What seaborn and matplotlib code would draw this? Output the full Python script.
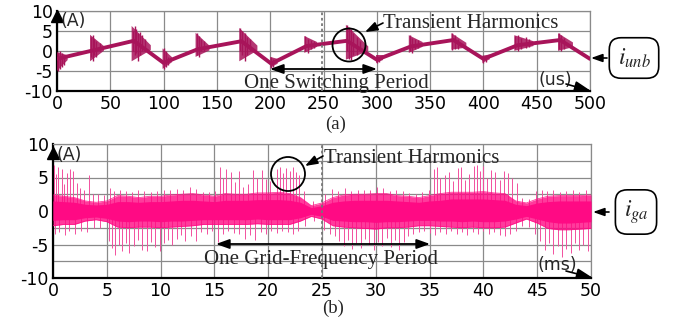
import numpy as np
import pandas as pd
import matplotlib
matplotlib.use("Agg")
import matplotlib.pyplot as plt
import seaborn as sns
from matplotlib.patches import Ellipse, FancyArrowPatch, ArrowStyle

# ---------------- data: panel (a) i_unb (us, A) ----------------
a_t = [0, 32, 72, 100, 132, 173, 201, 234, 272, 300, 332, 372, 400, 432, 472, 500]
a_i = [-2.0, 0.0, 2.5, -3.0, 0.4, 2.4, -3.2, 1.2, 2.5, -2.2, 1.1, 2.7, -2.0, 1.4, 2.7, -2.0]

# transient bursts (start, end, peak top, peak bottom, value at end)
b_t0 = [0, 31, 70, 99, 130, 171, 200, 232, 271, 299, 330, 370, 399, 429, 470]
b_t1 = [10, 44, 88, 108, 143, 188, 207, 244, 292, 306, 343, 384, 406, 447, 484]
b_top = [-0.3, 4.0, 6.2, 0.6, 4.5, 5.7, -1.5, 3.7, 6.5, -1.0, 3.9, 4.4, -1.2, 3.9, 4.4]
b_bot = [-5.0, -2.6, -2.6, -4.5, -1.5, -2.6, -4.2, -0.5, -2.2, -3.0, -0.5, 0.3, -3.0, 0.0, 0.0]
b_end = [-1.7, 0.6, 0.8, -2.2, 0.7, 0.7, -2.6, 1.6, 0.5, -1.6, 1.6, 1.4, -1.5, 1.8, 1.5]

# individual spikes inside bursts (time, low, high)
sa_t = [1, 3, 5, 7, 32, 33.5, 35, 37, 40, 71, 73, 74.5, 76, 78, 80, 83, 100, 102, 104,
        131, 133, 135, 138, 172, 174, 176, 178, 181, 201, 203, 233, 235, 238, 241,
        272, 274, 276, 278, 281, 284, 300, 302, 331, 333, 336, 339, 371, 373, 376,
        400, 402, 430, 432, 435, 440, 443, 471, 473, 476]
sa_lo = [-5, -4.5, -4, -3.5, -1.5, -2.6, -1, -1.5, 0, 0, -1, -0.5, -2.6, -1, 0, 0, -4.5, -4, -3.5,
         -1, -1.5, 0, 0, 0, -1, -2.6, -1, 0, -4.2, -4, 0, -0.5, 0.5, 0.8,
         0, -2, -2.2, -1, -1, 0, -3, -2.8, 0, -0.5, 0.5, 0.8, 0.3, 0.5, 0.5,
         -3, -2.8, 0.5, 0, 0.5, 0.8, 1, 0.5, 0, 0.5]
sa_hi = [-0.5, 0, -0.5, -1, 3.5, 4.0, 3, 2.5, 2, 5.0, 6.2, 5.5, 4.5, 4.8, 4, 3, 0.6, 0, -1.5,
         4.5, 3.8, 3, 2.5, 5.7, 5.0, 4.5, 3.5, 3, -1.5, -2, 3.7, 3.0, 2.8, 2.5,
         6.5, 6.0, 5.5, 4.5, 3.5, 2.5, -1, -1.5, 3.9, 3.2, 3.0, 2.8, 4.4, 4.0, 3.0,
         -1.2, -1.3, 3.6, 3.9, 3.3, 3.5, 3.0, 4.4, 4.0, 3.2]

# ---------------- data: panel (b) i_ga (ms, A) ----------------
b_tt = list(range(0, 51))
# outer (ragged) envelope of the dense band
core_hi = [2.4, 2.2, 2.0, 1.5, 1.3, 1.5, 2.3, 2.2, 2.0, 2.2, 2.2, 2.4, 2.5, 2.6, 2.4, 2.2, 2.6,
           2.5, 2.5, 2.7, 2.7, 2.8, 2.6, 2.0, 0.8, 1.2, 2.0, 2.4, 2.5, 2.5, 2.6, 2.6, 2.3, 2.2,
           2.0, 2.3, 2.6, 2.8, 2.8, 2.8, 2.9, 2.7, 2.6, 1.5, 1.2, 1.8, 2.2, 2.3, 2.3, 2.3, 2.4]
core_lo = [-2.2, -2.0, -2.0, -1.5, -1.3, -1.6, -2.4, -2.5, -2.4, -2.4, -2.5, -2.4, -2.3, -2.2,
           -2.0, -2.0, -2.0, -2.0, -2.0, -1.9, -2.0, -2.0, -2.0, -1.5, -0.8, -1.2, -2.2, -2.4,
           -2.5, -2.6, -2.7, -2.5, -2.5, -2.4, -2.2, -2.2, -2.3, -2.4, -2.5, -2.4, -2.5, -2.5,
           -2.4, -1.8, -1.2, -1.8, -2.6, -2.8, -2.8, -2.7, -2.6]
# solid inner part of the band
inner_hi = [1.5, 1.4, 1.3, 1.0, 0.9, 1.0, 1.4, 1.4, 1.3, 1.4, 1.4, 1.5, 1.6, 1.6, 1.5, 1.4, 1.6,
            1.6, 1.6, 1.7, 1.7, 1.7, 1.6, 1.3, 0.5, 0.8, 1.3, 1.5, 1.6, 1.6, 1.6, 1.6, 1.5, 1.4,
            1.3, 1.5, 1.6, 1.8, 1.8, 1.8, 1.8, 1.7, 1.6, 1.0, 0.8, 1.2, 1.4, 1.5, 1.5, 1.5, 1.5]
inner_lo = [-1.4, -1.3, -1.3, -1.0, -0.9, -1.1, -1.5, -1.6, -1.5, -1.5, -1.6, -1.5, -1.5, -1.4,
            -1.3, -1.3, -1.3, -1.3, -1.3, -1.2, -1.3, -1.3, -1.3, -1.0, -0.5, -0.8, -1.4, -1.5,
            -1.6, -1.6, -1.7, -1.6, -1.6, -1.5, -1.4, -1.4, -1.5, -1.5, -1.6, -1.5, -1.6, -1.6,
            -1.5, -1.2, -0.8, -1.2, -1.6, -1.8, -1.8, -1.7, -1.6]

up_t = [0.1, 0.3, 0.5, 0.8, 1.0, 1.3, 1.6, 1.9, 2.2, 2.5, 2.9, 3.3, 3.7, 4.2, 4.7, 5.3, 5.7, 6.2,
        6.8, 7.3, 7.9, 8.5, 9.1, 9.7, 10.3, 10.9, 11.5, 12.1, 12.7, 13.3, 13.9, 14.5, 15.1, 15.5,
        15.8, 16.1, 16.5, 16.9, 17.3, 17.7, 18.1, 18.6, 19.0, 19.4, 19.8, 20.2, 20.8, 21.1, 21.4,
        21.7, 22.0, 22.3, 22.6, 22.9, 23.3, 24.2, 25.3, 25.9, 26.5, 27.1, 27.7, 28.3, 28.9, 29.5,
        30.1, 30.7, 31.3, 31.9, 32.5, 33.1, 33.7, 34.3, 34.9, 35.4, 35.7, 36.0, 36.4, 36.8, 37.2,
        37.6, 37.9, 38.3, 38.7, 39.1, 39.4, 39.7, 40.0, 40.3, 40.7, 41.1, 41.5, 41.9, 42.3, 42.7,
        43.1, 43.6, 44.2, 44.9, 45.4, 45.9, 46.5, 47.1, 47.7, 48.3, 48.9, 49.5]
up_v = [6.8, 5.5, 6.6, 6.3, 4.0, 5.6, 6.2, 5.9, 4.2, 3.5, 3.2, 5.4, 2.5, 2.6, 2.4, 3.4, 3.0, 3.2,
        3.0, 2.9, 3.1, 3.0, 2.8, 3.0, 3.2, 3.1, 3.3, 3.2, 3.6, 3.3, 2.8, 2.8, 3.0, 6.6,
        5.0, 6.2, 5.8, 4.4, 6.0, 3.6, 4.0, 6.1, 5.0, 6.1, 4.8, 4.5, 6.2, 6.5, 5.6,
        6.4, 6.0, 6.5, 5.8, 5.3, 3.0, 1.5, 2.6, 3.3, 3.0, 3.4, 3.0, 3.2, 3.1, 3.2,
        3.6, 3.4, 3.0, 3.2, 3.0, 2.7, 2.6, 2.8, 3.2, 6.2, 6.6, 4.9, 5.3, 5.8, 4.5,
        6.4, 6.6, 4.7, 5.5, 6.7, 6.8, 6.0, 6.7, 5.0, 6.1, 5.8, 4.6, 5.9, 5.6, 5.0,
        4.2, 2.0, 1.8, 3.0, 3.2, 3.0, 3.1, 2.9, 3.0, 3.2, 2.9, 3.1]
lo_t = [0.2, 0.6, 1.1, 1.5, 2.0, 2.6, 3.2, 3.8, 4.4, 5.2, 5.5, 5.8, 6.1, 6.4, 6.8, 7.1, 7.5, 7.9,
        8.3, 8.7, 9.1, 9.5, 9.9, 10.3, 10.7, 11.1, 11.5, 11.9, 12.3, 12.8, 13.3, 13.8, 14.3, 14.8,
        15.3, 15.8, 16.3, 16.8, 17.3, 17.8, 18.3, 18.8, 19.3, 19.8, 20.3, 20.8, 21.3, 21.8, 22.3,
        22.8, 23.4, 24.3, 25.2, 25.7, 26.2, 26.6, 27.0, 27.4, 27.8, 28.2, 28.6, 29.0, 29.4, 29.8,
        30.2, 30.6, 31.0, 31.4, 31.8, 32.2, 32.6, 33.0, 33.5, 34.0, 34.5, 35.0, 35.5, 36.0, 36.5,
        37.0, 37.5, 38.0, 38.5, 39.0, 39.5, 40.0, 40.5, 41.0, 41.5, 42.0, 42.5, 43.0, 43.6, 44.2,
        44.8, 45.3, 45.7, 46.1, 46.5, 46.9, 47.3, 47.7, 48.1, 48.5, 48.9, 49.3, 49.7]
lo_v = [-3.5, -3.2, -3.6, -3.0, -3.4, -3.0, -3.2, -2.5, -2.6, -4.5, -5.5, -6.5, -5.0, -6.0, -4.8,
        -6.3, -5.2, -4.4, -5.8, -6.0, -4.6, -5.3, -5.9, -4.8, -4.4, -5.0, -4.2, -3.6, -4.5, -3.8,
        -4.5, -3.2, -3.4, -3.0, -4.6, -3.4, -3.0, -3.3, -3.5, -4.2, -3.6, -4.4, -3.2, -3.4, -3.0,
        -3.3, -3.0, -3.2, -3.4, -3.0, -2.2, -1.5, -2.8, -3.4, -3.8, -4.5, -5.2, -4.4, -5.6, -4.8,
        -5.5, -4.2, -5.0, -5.8, -4.6, -5.2, -4.0, -5.3, -4.4, -5.8, -4.6, -3.8, -3.4, -3.2, -3.0,
        -3.3, -3.6, -3.2, -3.5, -3.0, -3.4, -3.2, -3.6, -3.1, -3.4, -3.0, -3.5, -3.2, -3.6, -3.8,
        -3.4, -3.0, -2.2, -2.4, -3.5, -4.5, -5.8, -4.8, -6.4, -5.2, -6.8, -5.6, -6.2, -4.8, -5.8,
        -5.0, -6.0]

xt_a = [0, 50, 100, 150, 200, 250, 300, 350, 400, 450, 500]
xt_b = [0, 5, 10, 15, 20, 25, 30, 35, 40, 45, 50]
yt = [-10, -5, 0, 5, 10]

# ---------------- style ----------------
sns.set_theme(style="whitegrid")
plt.rcParams["font.family"] = ["DejaVu Sans"]
plt.rcParams["mathtext.fontset"] = "stix"
SERIF = ["Liberation Serif", "DejaVu Serif"]

W, H = 688, 322
fig = plt.figure(figsize=(W / 100, H / 100), dpi=100)
fig.patch.set_facecolor("white")


def fx(px):
    return px / W


def fy(py):
    return 1 - py / H


col_a = "#A8145A"
col_b = "#FF0A84"
col_b_sp = "#F2509F"
grid_c = "#8a8a8a"

axA = fig.add_axes([fx(57), fy(91), (590 - 57) / W, (91 - 10.7) / H])
axB = fig.add_axes([fx(53), fy(278), (591 - 53) / W, (278 - 144) / H])

# ---- panel (a)
dfA = pd.DataFrame({"t": a_t, "i": a_i})
sns.lineplot(data=dfA, x="t", y="i", ax=axA, color=col_a, lw=2.8, sort=False,
             estimator=None, zorder=3)
for t0, t1, tp, bt, en in zip(b_t0, b_t1, b_top, b_bot, b_end):
    axA.fill([t0, t0, t1, t1], [bt, tp, en + 0.6, en - 0.6], color=col_a, alpha=0.85,
             lw=0, zorder=3)
axA.vlines(sa_t, sa_lo, sa_hi, color=col_a, lw=1.0, zorder=4)

# ---- panel (b)
dfB = pd.DataFrame({"t": b_tt, "hi": core_hi, "lo": core_lo,
                    "ihi": inner_hi, "ilo": inner_lo})
axB.vlines(up_t, 0, up_v, color=col_b_sp, lw=0.7, zorder=3)
axB.vlines(lo_t, lo_v, 0, color=col_b_sp, lw=0.7, zorder=3)
axB.fill_between(dfB["t"], dfB["lo"], dfB["hi"], color=col_b, alpha=0.8, lw=0, zorder=4)
axB.fill_between(dfB["t"], dfB["ilo"], dfB["ihi"], color=col_b, lw=0, zorder=4)
sns.lineplot(data=dfB, x="t", y="hi", ax=axB, color=col_b, lw=0.6, alpha=0.8,
             estimator=None, zorder=4)
sns.lineplot(data=dfB, x="t", y="lo", ax=axB, color=col_b, lw=0.6, alpha=0.8,
             estimator=None, zorder=4)

for ax, xt, xl in [(axA, xt_a, (0, 500)), (axB, xt_b, (0, 50))]:
    ax.set_xlim(*xl)
    ax.set_ylim(-10, 10)
    ax.set_xticks(xt)
    ax.set_xticklabels([str(v) for v in xt])
    ax.set_yticks(yt)
    ax.set_yticklabels([str(v) for v in yt])
    ax.set_xlabel("")
    ax.set_ylabel("")
    ax.set_facecolor("white")
    ax.tick_params(axis="both", which="both", length=0, labelsize=12.5, colors="black")
    ax.tick_params(axis="x", pad=3)
    ax.tick_params(axis="y", pad=3)
    ax.grid(True, which="both", color=grid_c, lw=0.9)
    for s in ["top", "right"]:
        ax.spines[s].set_color(grid_c)
        ax.spines[s].set_linewidth(0.9)
    for s in ["left", "bottom"]:
        ax.spines[s].set_color("black")
        ax.spines[s].set_linewidth(1.6)
    ax.set_axisbelow(True)

axB.set_yticks([-7.5, -2.5, 2.5, 7.5], minor=True)
axA.axvline(249, color="#777777", ls=(0, (1.5, 1.5)), lw=1.3, zorder=5)
axB.axvline(25, color="#777777", ls=(0, (1.5, 1.5)), lw=1.3, zorder=5)

# axis arrows (up)
for ax in (axA, axB):
    ax.plot([0], [0.93], marker="^", ms=9, color="black", transform=ax.transAxes,
            clip_on=False, zorder=6)
fig.text(fx(61), fy(21.5), "(A)", fontsize=12.5, va="center", ha="left")
fig.text(fx(57), fy(155), "(A)", fontsize=12.5, va="center", ha="left")


def arrow(p0, p1, style="-|>", hl=0.55, hw=0.18, ms=18, lw=1.2):
    st = ArrowStyle(style, head_length=hl, head_width=hw)
    a = FancyArrowPatch((fx(p0[0]), fy(p0[1])), (fx(p1[0]), fy(p1[1])),
                        transform=fig.transFigure, arrowstyle=st, mutation_scale=ms,
                        color="black", lw=lw, shrinkA=0, shrinkB=0, zorder=10)
    fig.add_artist(a)


# x-axis end arrows and units
arrow((566, 84), (591, 91))
arrow((566, 271), (593, 278))
fig.text(fx(555), fy(80), "(us)", fontsize=12.5, ha="center", va="center")
fig.text(fx(557), fy(265), "(ms)", fontsize=12.5, ha="center", va="center")

# signal name boxes
box = dict(boxstyle="round,pad=0.35,rounding_size=0.5", fc="white", ec="black", lw=1.2)
fig.text(fx(634), fy(58), r"$i_{unb}$", fontsize=17, ha="center", va="center", bbox=box)
fig.text(fx(636), fy(212), r"$i_{ga}$", fontsize=17, ha="center", va="center", bbox=box)
arrow((607, 58), (591, 58), hl=0.45, hw=0.16, ms=15)
arrow((609, 212), (593, 212), hl=0.45, hw=0.16, ms=15)

# transient circles + labels
fig.add_artist(Ellipse((fx(349), fy(45)), 33 / W, 33 / H, transform=fig.transFigure,
                       fill=False, ec="black", lw=1.3))
fig.add_artist(Ellipse((fx(288), fy(174)), 34 / W, 34 / H, transform=fig.transFigure,
                       fill=False, ec="black", lw=1.3))
fig.text(fx(383), fy(28), "Transient Harmonics", family=SERIF, fontsize=15, va="baseline")
fig.text(fx(324), fy(163), "Transient Harmonics", family=SERIF, fontsize=15, va="baseline")
arrow((383, 23), (365, 32), hl=0.5, hw=0.18, ms=15)
arrow((323, 156), (305, 166), hl=0.5, hw=0.18, ms=15)

# period arrows + labels
arrow((270, 69), (377, 69), style="<|-|>", hl=0.5, hw=0.18, ms=16, lw=1.3)
arrow((216, 244), (430, 244), style="<|-|>", hl=0.5, hw=0.18, ms=16, lw=1.3)
fig.text(fx(336), fy(88), "One Switching Period", family=SERIF, fontsize=15,
         ha="center", va="baseline")
fig.text(fx(321), fy(264), "One Grid-Frequency Period", family=SERIF, fontsize=15,
         ha="center", va="baseline")

# captions
fig.text(fx(336), fy(124), "(a)", family=SERIF, fontsize=13.5, ha="center", va="center")
fig.text(fx(333), fy(308), "(b)", family=SERIF, fontsize=13.5, ha="center", va="center")

fig.savefig("out.png", dpi=100, facecolor="white")
